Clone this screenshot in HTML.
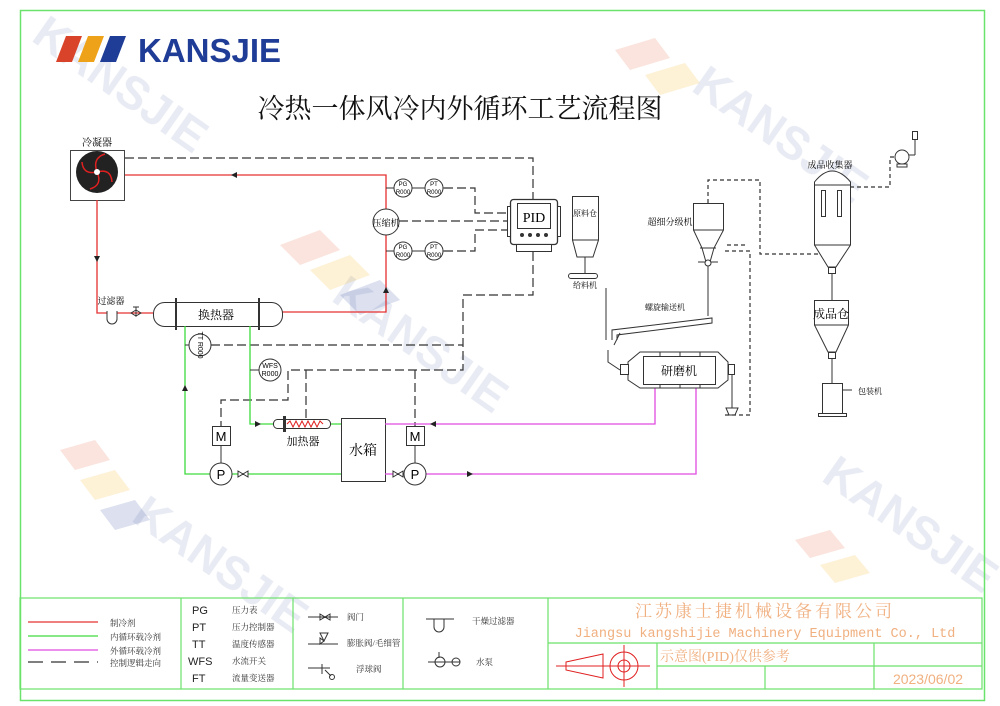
<!DOCTYPE html>
<html><head><meta charset="utf-8"><style>
html,body{margin:0;padding:0;background:#fff;width:1000px;height:706px;overflow:hidden}
svg{display:block}
text{font-family:"Liberation Serif","Noto Serif CJK SC",serif}
text.s,.s text{font-family:"Liberation Sans","Noto Sans CJK SC",sans-serif}
text.m{font-family:"Liberation Mono","Noto Sans CJK SC",monospace}
</style></head><body>
<svg width="1000" height="706" viewBox="0 0 1000 706" xmlns="http://www.w3.org/2000/svg">
<!-- watermarks -->
<g opacity="0.14" font-weight="bold" fill="#5a6fa8" font-size="46" class="s">
<text transform="translate(30,40) rotate(35)">KANSJIE</text>
<text transform="translate(330,300) rotate(35)">KANSJIE</text>
<text transform="translate(690,90) rotate(35)">KANSJIE</text>
<text transform="translate(130,520) rotate(35)">KANSJIE</text>
<text transform="translate(820,480) rotate(35)">KANSJIE</text>
</g>
<g opacity="0.16">
<polygon points="280,245 320,230 340,250 300,265" fill="#e0562c"/>
<polygon points="310,270 350,255 370,275 330,290" fill="#f0a800"/>
<polygon points="340,295 380,280 400,300 360,315" fill="#2a3f9a"/>
<polygon points="60,450 95,440 110,460 75,470" fill="#e0562c"/>
<polygon points="80,480 115,470 130,490 95,500" fill="#f0a800"/>
<polygon points="100,510 135,500 150,520 115,530" fill="#2a3f9a"/>
<polygon points="615,50 655,38 670,58 630,70" fill="#e0562c"/>
<polygon points="645,75 685,63 700,83 660,95" fill="#f0a800"/>
<polygon points="795,540 830,530 845,548 810,558" fill="#e0562c"/>
<polygon points="820,565 855,555 870,573 835,583" fill="#f0a800"/>
</g>
<!-- border -->
<rect x="20.5" y="10.5" width="964" height="690" fill="none" stroke="#6be26b" stroke-width="1.5"/>
<!-- logo -->
<polygon points="66,36 82,36 72,62 56,62" fill="#d9432a"/>
<polygon points="88,36 104,36 94,62 78,62" fill="#eea21a"/>
<polygon points="110,36 126,36 116,62 100,62" fill="#1f3c96"/>
<text x="138" y="62" class="s" font-size="33" font-weight="bold" fill="#1f3c96">KANSJIE</text>
<text x="460" y="118" font-size="27" text-anchor="middle" fill="#111">冷热一体风冷内外循环工艺流程图</text>

<!-- condenser -->
<text x="97" y="146" font-size="10" text-anchor="middle">冷凝器</text>
<rect x="70.5" y="150.5" width="54" height="50" fill="#fff" stroke="#444"/>
<circle cx="97" cy="172" r="21" fill="#222"/>
<g stroke="#e02020" stroke-width="1.5" fill="none">
<path d="M97,172 q-5,-14 8,-18"/><path d="M97,172 q14,-4 15,10"/><path d="M97,172 q6,13 -7,17"/><path d="M97,172 q-14,3 -15,-10"/>
</g>
<circle cx="97" cy="172" r="3" fill="#fff"/>

<!-- dashed control lines -->
<g stroke="#333" stroke-width="1.2" fill="none" stroke-dasharray="9,4">
<path d="M125,158 H533 V199"/>
<path d="M444,188 H475 V213 H510"/>
<path d="M444,251 H475 V230 H510"/>
<path d="M399,221 H510"/>
<path d="M533,252 V295 H463 V370 H288 V400 H221 V426"/>
<path d="M211,345 H463"/>
<path d="M306,370 V420"/>
<path d="M415,370 V426"/>
</g>
<!-- red refrigerant -->
<g stroke="#e53030" stroke-width="1.3" fill="none">
<path d="M125,175 H386 V312 H282"/>
<path d="M97,200 V313 H153"/>
</g>
<polygon points="231,175 237,172 237,178" fill="#222"/>
<polygon points="97,262 94,256 100,256" fill="#222"/>
<polygon points="386,287 383,293 389,293" fill="#222"/>
<!-- compressor -->
<circle cx="386" cy="222" r="13" fill="#fff" stroke="#333"/>
<text x="386" y="226" font-size="9" text-anchor="middle">压缩机</text>
<!-- gauges -->
<g fill="#fff" stroke="#333">
<line x1="386" y1="188" x2="444" y2="188"/><line x1="386" y1="251" x2="444" y2="251"/>
<circle cx="403" cy="188" r="9"/><circle cx="434" cy="188" r="9"/>
<circle cx="403" cy="251" r="9"/><circle cx="434" cy="251" r="9"/>
</g>
<g font-size="6" text-anchor="middle" class="s">
<text x="403" y="186">PG</text><text x="403" y="194">R000</text>
<text x="434" y="186">PT</text><text x="434" y="194">R000</text>
<text x="403" y="249">PG</text><text x="403" y="257">R000</text>
<text x="434" y="249">PT</text><text x="434" y="257">R000</text>
</g>
<!-- PID -->
<rect x="510.5" y="199.5" width="47" height="45" rx="3" fill="#fff" stroke="#333" stroke-width="1.3"/>
<rect x="517.5" y="203.5" width="33" height="25" fill="#fff" stroke="#333"/>
<text x="534" y="222" font-size="14" text-anchor="middle">PID</text>
<g fill="#333"><circle cx="522" cy="235" r="2"/><circle cx="530" cy="235" r="2"/><circle cx="538" cy="235" r="2"/><circle cx="546" cy="235" r="2"/></g>
<rect x="516.5" y="244.5" width="35" height="7" fill="#fff" stroke="#333"/>
<rect x="507.5" y="206.5" width="3" height="30" fill="#fff" stroke="#333"/>
<rect x="557.5" y="206.5" width="3" height="30" fill="#fff" stroke="#333"/>

<!-- filter & HX -->
<text x="111" y="304" font-size="9" text-anchor="middle">过滤器</text>
<path d="M107,311 V319 a5,5 0 0 0 10,0 V311" fill="#fff" stroke="#333"/>
<path d="M131,313 l5,-3 v6 z M141,313 l-5,-3 v6 z M136,313 v-6 M133,307 h6" fill="none" stroke="#333"/>
<rect x="153.5" y="302.5" width="129" height="24" rx="11" fill="#fff" stroke="#333"/>
<line x1="176" y1="298" x2="176" y2="330" stroke="#333" stroke-width="2"/>
<line x1="259" y1="298" x2="259" y2="330" stroke="#333" stroke-width="2"/>
<text x="216" y="319" font-size="12" text-anchor="middle">换热器</text>

<!-- green loop -->
<g stroke="#3ddc3d" stroke-width="1.3" fill="none">
<path d="M185,326 V474 H341"/>
<path d="M250,326 V424 H341"/>
</g>
<polygon points="185,385 182,391 188,391" fill="#222"/>
<polygon points="261,424 255,421 255,427" fill="#222"/>
<!-- TT WFS -->
<line x1="185" y1="345" x2="200" y2="345" stroke="#333"/>
<circle cx="200" cy="345" r="11" fill="#fff" stroke="#333"/>
<text transform="translate(198,345) rotate(90)" font-size="7" text-anchor="middle" class="s">TT R000</text>
<line x1="250" y1="370" x2="260" y2="370" stroke="#333"/>
<circle cx="270" cy="370" r="11" fill="#fff" stroke="#333"/>
<text x="270" y="368" font-size="7" text-anchor="middle" class="s">WFS</text>
<text x="270" y="376" font-size="7" text-anchor="middle" class="s">R000</text>
<!-- heater -->
<rect x="273.5" y="419.5" width="57" height="9" rx="4" fill="#fff" stroke="#333"/>
<rect x="283" y="416" width="3" height="16" fill="#333"/>
<path d="M287,424 l3,-3 3,6 3,-6 3,6 3,-6 3,6 3,-6 3,6 3,-6 3,6 3,-6 3,3" stroke="#e02020" fill="none"/>
<text x="303" y="445" font-size="11" text-anchor="middle">加热器</text>
<!-- tank -->
<rect x="341.5" y="418.5" width="44" height="63" fill="#fff" stroke="#333"/>
<text x="363" y="455" font-size="14" text-anchor="middle">水箱</text>
<!-- magenta -->
<g stroke="#e04ce0" stroke-width="1.3" fill="none">
<path d="M385,424 H655 V388"/>
<path d="M385,474 H696 V388"/>
</g>
<polygon points="430,424 436,421 436,427" fill="#222"/>
<polygon points="473,474 467,471 467,477" fill="#222"/>
<!-- pumps & motors -->
<g fill="#fff" stroke="#333">
<line x1="221" y1="445" x2="221" y2="463"/><line x1="415" y1="445" x2="415" y2="463"/>
<rect x="212.5" y="426.5" width="18" height="19"/><rect x="406.5" y="426.5" width="18" height="19"/>
<circle cx="221" cy="474" r="11"/><circle cx="415" cy="474" r="11"/>
<path d="M238,471 l5,3 -5,3z M248,471 l-5,3 5,3z M393,471 l5,3 -5,3z M403,471 l-5,3 5,3z"/>
</g>
<g class="s" font-size="13" text-anchor="middle">
<text x="221" y="441">M</text><text x="415" y="441">M</text>
<text x="221" y="479">P</text><text x="415" y="479">P</text>
</g>

<!-- right side process -->
<g fill="#fff" stroke="#333">
<path d="M572.5,196.5 H598.5 V240 L593,257 H577 L572.5,240 Z"/>
<line x1="572" y1="240" x2="598" y2="240"/>
<rect x="568.5" y="273.5" width="29" height="5" rx="2.5"/>
<line x1="585" y1="257" x2="585" y2="273"/>
<line x1="606" y1="288" x2="606" y2="340"/>
<path d="M693.5,203.5 H723.5 V230 L714,248 L710,262 H706 L702,248 L693.5,230 Z"/>
<line x1="693" y1="230" x2="723" y2="230"/>
<line x1="700" y1="248" x2="716" y2="248"/>
<line x1="698" y1="262" x2="718" y2="262"/>
<circle cx="708" cy="263" r="3"/>
<line x1="708" y1="266" x2="708" y2="316"/>
<path d="M612,340 V330 L712,318 V323 L617,335 V340" />
<line x1="620" y1="333" x2="614" y2="345"/>
<path d="M640,352 H718 L728,362 V380 L718,388 H640 L628,380 V362 Z"/>
<rect x="643.5" y="356.5" width="72" height="28"/>
<line x1="660" y1="352" x2="660" y2="356"/><line x1="680" y1="352" x2="680" y2="356"/><line x1="700" y1="352" x2="700" y2="356"/>
<line x1="660" y1="384" x2="660" y2="388"/><line x1="680" y1="384" x2="680" y2="388"/><line x1="700" y1="384" x2="700" y2="388"/>
<rect x="620.5" y="364.5" width="8" height="10"/>
<path d="M608,350 V362 L620,370" fill="none"/>
<rect x="728.5" y="364.5" width="6" height="10"/>
<line x1="732" y1="375" x2="732" y2="408"/>
<path d="M726,408 H738 L735,415 H729 Z"/>
<path d="M814.5,245 V182 Q832,160 850.5,182 V245 L836,267 H828 Z"/>
<line x1="814" y1="185" x2="850" y2="185"/>
<line x1="814" y1="245" x2="850" y2="245"/>
<rect x="821.5" y="190.5" width="4" height="26"/><rect x="837.5" y="190.5" width="4" height="26"/>
<rect x="828.5" y="267.5" width="7" height="6"/>
<line x1="832" y1="274" x2="832" y2="300"/>
<path d="M814.5,300.5 H848.5 V325 L836,352 H828 L814.5,325 Z"/>
<line x1="814" y1="325" x2="848" y2="325"/>
<rect x="828.5" y="352.5" width="7" height="6"/>
<line x1="832" y1="359" x2="832" y2="383"/>
<rect x="822.5" y="383.5" width="20" height="30"/>
<rect x="818.5" y="413.5" width="28" height="3"/>
<line x1="842" y1="390" x2="852" y2="390"/>
<circle cx="902" cy="157" r="7"/>
<rect x="897" y="164" width="10" height="3"/>
<line x1="909" y1="155" x2="915" y2="155"/>
<line x1="915" y1="155" x2="915" y2="140"/>
<rect x="912.5" y="131.5" width="5" height="8"/>
</g>
<g stroke="#333" stroke-width="1.2" fill="none" stroke-dasharray="4,3">
<path d="M708,203 V180 H760 V254 H818"/>
<path d="M850,187 H890 V157 H895"/>
<path d="M725,415 H750 V251 H723"/>
<path d="M745,245 H724"/>
</g>
<g font-size="9" text-anchor="middle">
<text x="585" y="216" font-size="8">原料仓</text>
<text x="585" y="288" font-size="8">给料机</text>
<text x="670" y="225">超细分级机</text>
<text x="665" y="310" font-size="8">螺旋输送机</text>
<text x="679" y="375" font-size="12">研磨机</text>
<text x="830" y="168">成品收集器</text>
<text x="831" y="318" font-size="12">成品仓</text>
<text x="870" y="394" font-size="8">包装机</text>
</g>

<!-- legend table -->
<g stroke="#6be26b" stroke-width="1.2" fill="none">
<rect x="20" y="598" width="962" height="91"/>
<line x1="181" y1="598" x2="181" y2="689"/>
<line x1="293" y1="598" x2="293" y2="689"/>
<line x1="403" y1="598" x2="403" y2="689"/>
<line x1="548" y1="598" x2="548" y2="689"/>
<line x1="548" y1="643" x2="982" y2="643"/>
<line x1="657" y1="643" x2="657" y2="689"/>
<line x1="874" y1="643" x2="874" y2="689"/>
<line x1="657" y1="666" x2="982" y2="666"/>
<line x1="765" y1="666" x2="765" y2="689"/>
</g>
<line x1="28" y1="622" x2="98" y2="622" stroke="#e53030" stroke-width="1.2"/>
<line x1="28" y1="636" x2="98" y2="636" stroke="#3ddc3d" stroke-width="1.2"/>
<line x1="28" y1="650" x2="98" y2="650" stroke="#e04ce0" stroke-width="1.2"/>
<line x1="28" y1="662" x2="98" y2="662" stroke="#333" stroke-width="1.2" stroke-dasharray="15,8"/>
<g font-size="8.5" fill="#333">
<text x="110" y="626">制冷剂</text><text x="110" y="640">内循环载冷剂</text>
<text x="110" y="654">外循环载冷剂</text><text x="110" y="666">控制逻辑走向</text>
<text x="232" y="613">压力表</text><text x="232" y="630">压力控制器</text><text x="232" y="647">温度传感器</text>
<text x="232" y="664">水流开关</text><text x="232" y="681">流量变送器</text>
<text x="347" y="620">阀门</text><text x="347" y="646">膨胀阀/毛细管</text><text x="356" y="672">浮球阀</text>
<text x="472" y="624">干燥过滤器</text><text x="476" y="665">水泵</text>
</g>
<g font-size="11" class="s" fill="#222">
<text x="192" y="614">PG</text><text x="192" y="631">PT</text><text x="192" y="648">TT</text>
<text x="188" y="665">WFS</text><text x="192" y="682">FT</text>
</g>
<g stroke="#333" fill="none">
<path d="M308,617 H338 M320,614 l5,3 -5,3z M330,614 l-5,3 5,3z"/>
<path d="M308,644 H338 M320,633 h8 l-4,8 z M324,641 l-4,-3 v6 z"/>
<path d="M308,668 H330 M322,664 v10 M325,670 l6,6"/>
<circle cx="332" cy="677" r="2.5"/>
<path d="M426,619 H454 M434,619 v8 a5,5 0 0 0 10,0 v-8"/>
<path d="M428,662 H460 M439,652 v6"/>
<circle cx="440" cy="662" r="5"/><circle cx="456" cy="662" r="4"/>
</g>
<text x="765" y="617" font-size="17" text-anchor="middle" fill="#f0b080" letter-spacing="3">江苏康士捷机械设备有限公司</text>
<text x="765" y="637" font-size="13.5" text-anchor="middle" fill="#f0b080" class="m">Jiangsu kangshijie Machinery Equipment Co., Ltd</text>
<text x="660" y="661" font-size="14" fill="#f0b080">示意图(PID)仅供参考</text>
<text x="928" y="684" font-size="14" text-anchor="middle" fill="#f0b080" class="s">2023/06/02</text>
<g stroke="#e02020" fill="none">
<path d="M556,666 H650"/>
<path d="M566,662 L603,654 V678 L566,670 Z"/>
<circle cx="624" cy="666" r="14"/><circle cx="624" cy="666" r="6"/>
<line x1="624" y1="645" x2="624" y2="687"/>
</g>
</svg>
</body></html>
